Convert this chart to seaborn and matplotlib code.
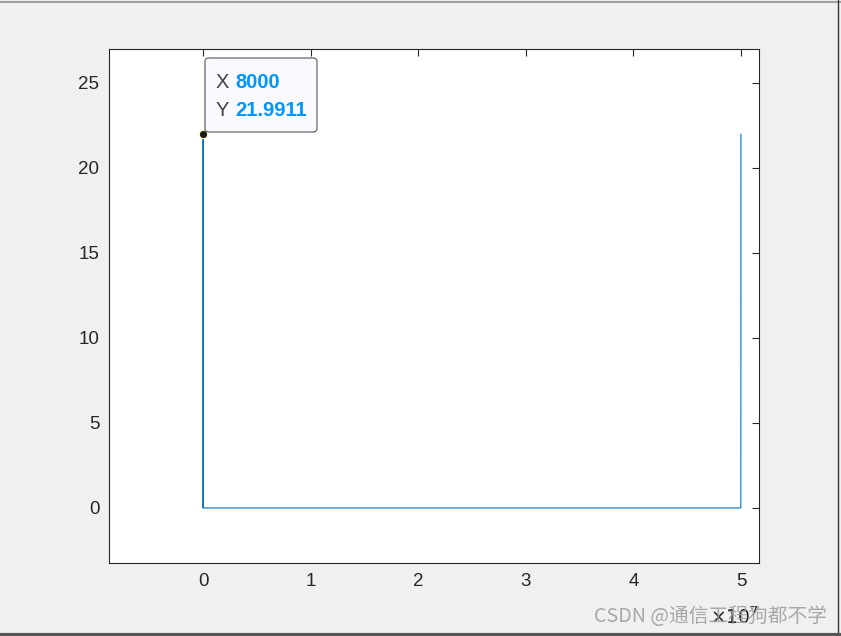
import matplotlib
matplotlib.use("Agg")
import matplotlib.pyplot as plt
import seaborn as sns
import numpy as np
import pandas as pd
from matplotlib.patches import FancyBboxPatch
from matplotlib.lines import Line2D

# === Datos ===
freq = [0, 8000, 16000, 6.0e6, 4.4e7, 49984000, 49992000]
amp = [0, 21.9911, 0.0, 0.0, 0.0, 0.0, 21.9911]
x_ticks = [0, 1, 2, 3, 4, 5]
y_ticks = [0, 5, 10, 15, 20, 25]
tip_x, tip_y = 8000, 21.9911

df = pd.DataFrame({"f": freq, "a": amp})

sns.set_style("white")
plt.rcParams["font.family"] = ["Liberation Sans", "DejaVu Sans"]

fig = plt.figure(figsize=(8.41, 6.36), dpi=100, facecolor="#f0f0f0")
ax = fig.add_axes([109 / 841, 1 - 563 / 636, 650 / 841, 514 / 636])
ax.set_facecolor("white")

sns.lineplot(data=df, x="f", y="a", ax=ax, color="#0072BD", linewidth=0.8,
             estimator=None, sort=True)

ax.set_xlim(-0.874e7, 5.167e7)
ax.set_ylim(-3.24, 27.0)
ax.set_xticks([t * 1e7 for t in x_ticks])
ax.set_xticklabels([str(t) for t in x_ticks])
ax.set_yticks(y_ticks)
ax.set_yticklabels([str(t) for t in y_ticks])
ax.set_xlabel("")
ax.set_ylabel("")
ax.tick_params(direction="in", length=5, width=0.8, labelsize=13.5, colors="#262626",
               top=True, right=True, pad=7)
for s in ax.spines.values():
    s.set_color("#262626")
    s.set_linewidth(0.8)

# exponente del eje x
ax.text(1.0, -0.085, r"$\times10^{7}$", transform=ax.transAxes, ha="right", va="top",
        fontsize=13.5, color="#262626")

# data tip
ax.plot([tip_x], [tip_y], "o", color="#1a1a1a", markersize=6,
        markeredgecolor="#ffffc0", markeredgewidth=0.8, zorder=5)
box = FancyBboxPatch((205 / 841, 1 - 132 / 636), 112 / 841, 74 / 636,
                     boxstyle="round,pad=0,rounding_size=0.005",
                     transform=fig.transFigure, facecolor="#f9f9ff",
                     edgecolor="#666666", linewidth=0.9, zorder=10)
fig.add_artist(box)
fig.text(216 / 841, 1 - 82 / 636, "X", fontsize=14.5, color="#404040", va="center", zorder=11)
fig.text(235 / 841, 1 - 82 / 636, "8000", fontsize=14.5, color="#0096ff",
         fontweight="bold", va="center", zorder=11)
fig.text(216 / 841, 1 - 111 / 636, "Y", fontsize=14.5, color="#404040", va="center", zorder=11)
fig.text(235 / 841, 1 - 111 / 636, "21.9911", fontsize=14.5, color="#0096ff",
         fontweight="bold", va="center", zorder=11)

# bordes de la ventana
fig.add_artist(Line2D([0, 1], [1 - 1.5 / 636, 1 - 1.5 / 636], transform=fig.transFigure,
                      color="#a0a0a0", linewidth=1.5))
fig.add_artist(Line2D([1 - 3 / 841, 1 - 3 / 841], [0, 1], transform=fig.transFigure,
                      color="#333333", linewidth=1.0))
fig.add_artist(Line2D([0, 1], [1.5 / 636, 1.5 / 636], transform=fig.transFigure,
                      color="#555555", linewidth=3))

# marca de agua
fig.text(827 / 841, 1 - 617 / 636, "CSDN @通信工程狗都不学", ha="right", va="center",
         fontsize=14.2, color="#a0a0a0", alpha=0.9,
         family=["Noto Sans CJK SC", "DejaVu Sans"])

fig.savefig("out.png", dpi=100, facecolor=fig.get_facecolor())
